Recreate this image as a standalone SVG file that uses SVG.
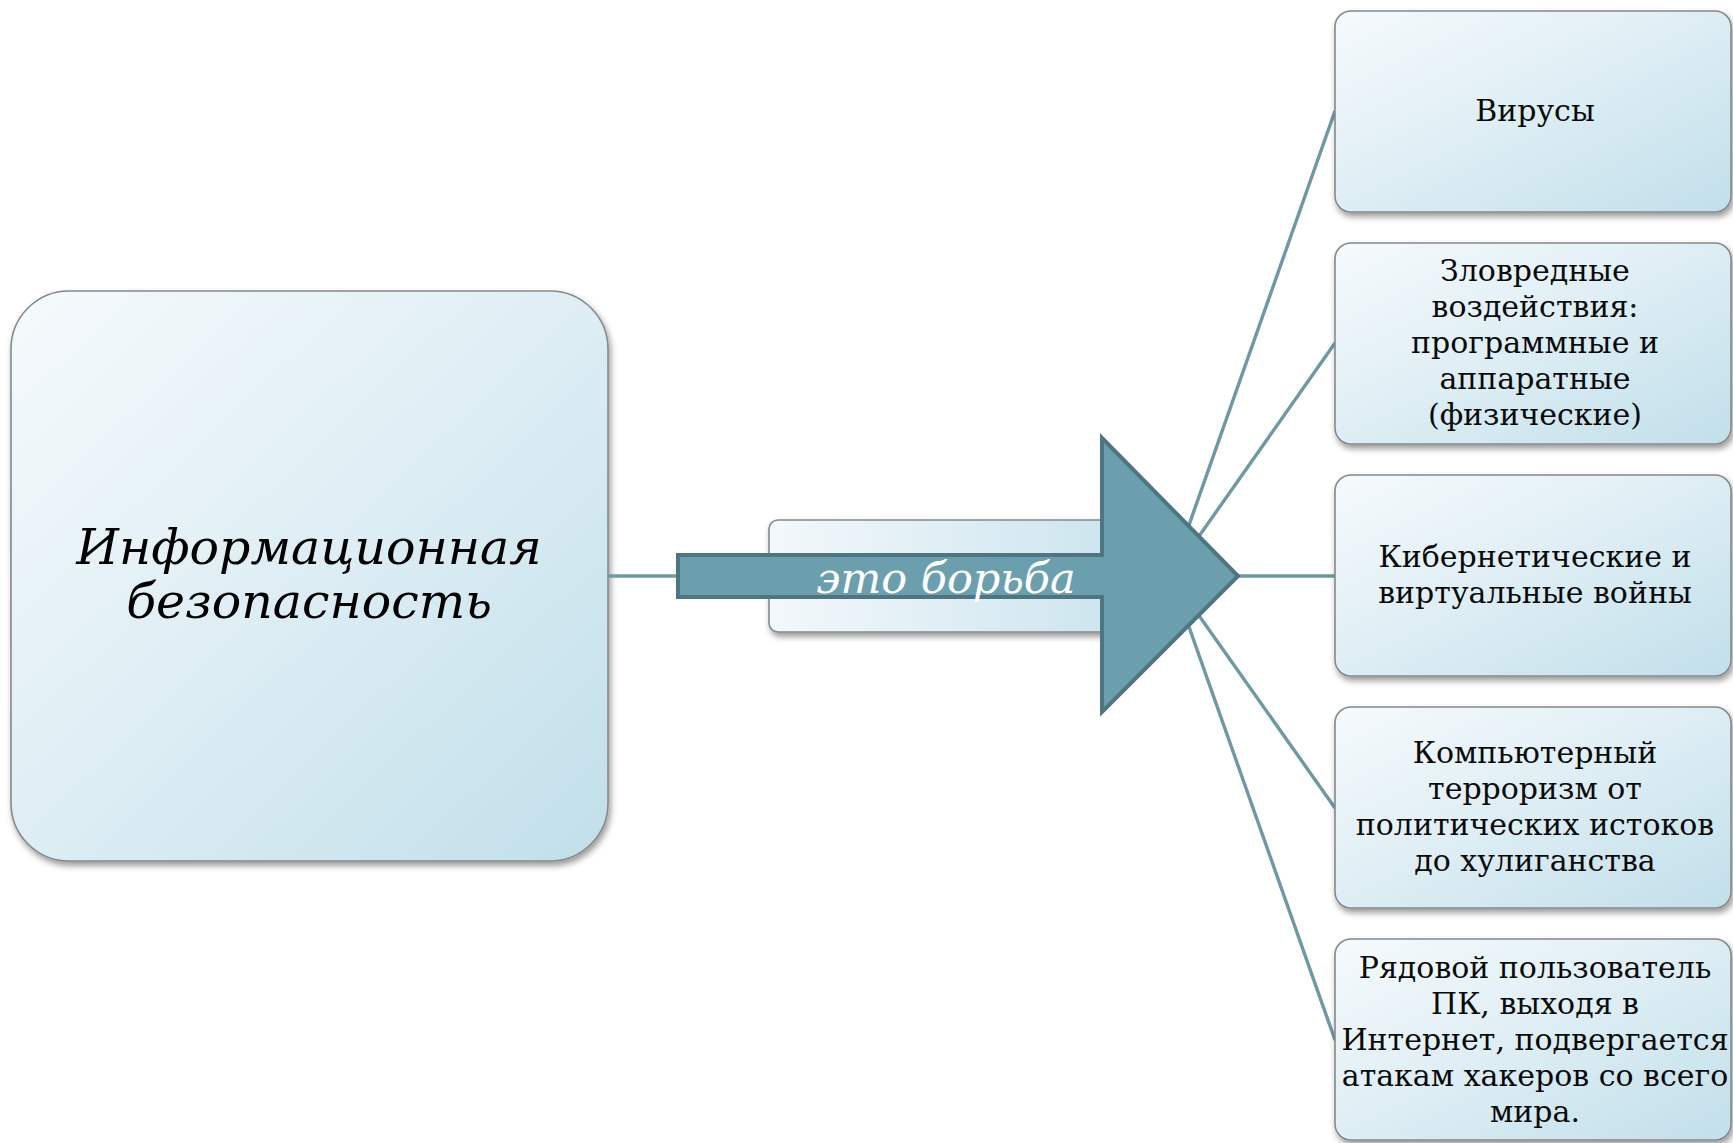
<svg xmlns="http://www.w3.org/2000/svg" width="1733" height="1143" viewBox="0 0 1733 1143">
  <style>
    .box { stroke: #85898c; stroke-width: 1.6; filter: url(#shadow); }
    .conn { stroke: #6d98a5; stroke-width: 3.4; fill: none; }
    .t { font-family: "DejaVu Serif", "Liberation Serif", serif; font-size: 30px; fill: #0a0a0a; text-anchor: middle; }
    .ti { font-family: "DejaVu Serif", "Liberation Serif", serif; font-style: italic; text-anchor: middle; }
  </style>
  <defs>
    <linearGradient id="g" x1="0" y1="0" x2="1" y2="1">
      <stop offset="0" stop-color="#f6fafc"/>
      <stop offset="0.45" stop-color="#e0eff5"/>
      <stop offset="1" stop-color="#c1dfea"/>
    </linearGradient>
    <linearGradient id="gh" x1="0" y1="0" x2="1" y2="0">
      <stop offset="0" stop-color="#f3f8fb"/>
      <stop offset="1" stop-color="#c6e2ed"/>
    </linearGradient>
    <filter id="shadow" x="-10%" y="-10%" width="130%" height="130%">
      <feDropShadow dx="2" dy="4" stdDeviation="3" flood-color="#000" flood-opacity="0.4"/>
    </filter>
  </defs>

  <g id="node-main">
    <rect class="box" x="11" y="291" width="597" height="570" rx="58" fill="url(#g)"/>
    <text class="ti" x="309" y="564" font-size="49">Информационная</text>
    <text class="ti" x="309" y="618" font-size="49">безопасность</text>
  </g>

  <g id="node-mid">
    <rect class="box" x="769" y="520" width="402" height="112" rx="9" fill="url(#gh)"/>
  </g>

  <g id="connectors">
    <line class="conn" x1="608" y1="576" x2="678" y2="576"/>
    <line class="conn" x1="1171" y1="576" x2="1335" y2="111"/>
    <line class="conn" x1="1171" y1="576" x2="1335" y2="343"/>
    <line class="conn" x1="1171" y1="576" x2="1335" y2="576"/>
    <line class="conn" x1="1171" y1="576" x2="1335" y2="808"/>
    <line class="conn" x1="1171" y1="576" x2="1335" y2="1040"/>
  </g>

  <g id="arrow">
    <polygon points="678,555 1102,555 1102,438 1238,576 1102,712 1102,597 678,597" fill="#6c9fae" stroke="#4d7582" stroke-width="4" stroke-linejoin="miter"/>
    <text class="ti" x="946" y="593" font-size="43" fill="#ffffff">это борьба</text>
  </g>

  <g id="node-1">
    <rect class="box" x="1335" y="11" width="396" height="201" rx="16" fill="url(#g)"/>
    <text class="t" x="1535" y="121">Вирусы</text>
  </g>

  <g id="node-2">
    <rect class="box" x="1335" y="243" width="396" height="201" rx="16" fill="url(#g)"/>
    <text class="t" x="1535" y="281">Зловредные</text>
    <text class="t" x="1535" y="317">воздействия:</text>
    <text class="t" x="1535" y="353">программные и</text>
    <text class="t" x="1535" y="389">аппаратные</text>
    <text class="t" x="1535" y="425">(физические)</text>
  </g>

  <g id="node-3">
    <rect class="box" x="1335" y="475" width="396" height="201" rx="16" fill="url(#g)"/>
    <text class="t" x="1535" y="567">Кибернетические и</text>
    <text class="t" x="1535" y="603">виртуальные войны</text>
  </g>

  <g id="node-4">
    <rect class="box" x="1335" y="707" width="396" height="201" rx="16" fill="url(#g)"/>
    <text class="t" x="1535" y="763">Компьютерный</text>
    <text class="t" x="1535" y="799">терроризм от</text>
    <text class="t" x="1535" y="835">политических истоков</text>
    <text class="t" x="1535" y="871">до хулиганства</text>
  </g>

  <g id="node-5">
    <rect class="box" x="1335" y="939" width="396" height="201" rx="16" fill="url(#g)"/>
    <text class="t" x="1535" y="978">Рядовой пользователь</text>
    <text class="t" x="1535" y="1014">ПК, выходя в</text>
    <text class="t" x="1535" y="1050">Интернет, подвергается</text>
    <text class="t" x="1535" y="1086">атакам хакеров со всего</text>
    <text class="t" x="1535" y="1122">мира.</text>
  </g>
</svg>
